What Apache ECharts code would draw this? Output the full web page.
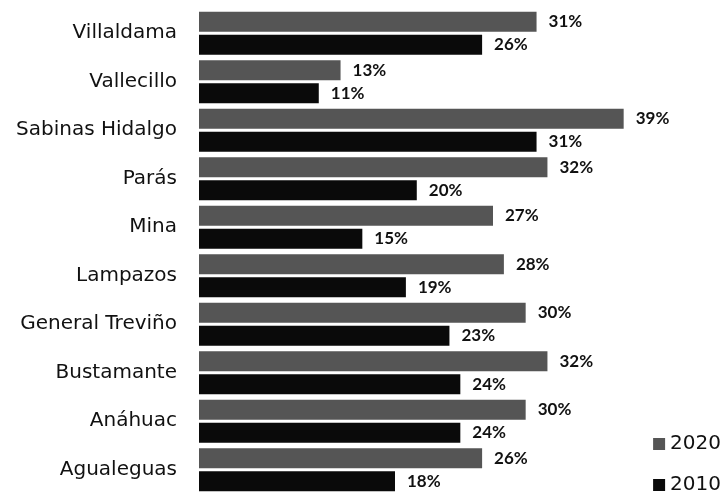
<!DOCTYPE html>
<html>
<head>
<meta charset="utf-8">
<script src="https://cdn.jsdelivr.net/npm/echarts@6/dist/echarts.min.js"></script>
<style>
  html, body { margin: 0; padding: 0; background: #fff; }
  #chart { width: 726px; height: 494px; }
</style>
</head>
<body>
<div id="chart"></div>
<script>
// municipios, de arriba hacia abajo
var municipios = ['Villaldama', 'Vallecillo', 'Sabinas Hidalgo', 'Parás', 'Mina',
    'Lampazos', 'General Treviño', 'Bustamante', 'Anáhuac', 'Agualeguas'];
var datos2020 = [31, 13, 39, 32, 27, 28, 30, 32, 30, 26];
var datos2010 = [26, 11, 31, 20, 15, 19, 23, 24, 24, 18];
var anios = ['2020', '2010'];

var myChart = echarts.init(document.getElementById('chart'));

var etiqueta = {
    show: true,
    position: 'right',
    distance: 12,
    formatter: '{c}%',
    color: '#111',
    fontSize: 17,
    fontWeight: 'bold',
    fontFamily: 'Lato'
};

var option = {
    animation: false,
    textStyle: { fontFamily: 'DejaVu Sans' },
    grid: {
        left: 199,
        right: 37,
        top: 9,
        bottom: 0
    },
    legend: {
        data: anios,
        orient: 'vertical',
        right: 0,
        bottom: -6,
        itemWidth: 12,
        itemHeight: 12,
        itemGap: 21,
        icon: 'rect',
        textStyle: { fontSize: 20, color: '#111', fontFamily: 'DejaVu Sans' }
    },
    xAxis: {
        type: 'value',
        min: 0,
        max: 45,
        show: false
    },
    yAxis: {
        type: 'category',
        inverse: true,
        data: municipios,
        axisLine: { show: false },
        axisTick: { show: false },
        axisLabel: {
            fontSize: 20,
            color: '#111',
            margin: 22,
            fontFamily: 'DejaVu Sans'
        }
    },
    series: [
        {
            name: '2020',
            type: 'bar',
            barWidth: 20,
            barGap: '15%',
            data: datos2020,
            itemStyle: { color: '#555555' },
            label: etiqueta
        },
        {
            name: '2010',
            type: 'bar',
            barWidth: 20,
            data: datos2010,
            itemStyle: { color: '#0a0a0a' },
            label: etiqueta
        }
    ]
};

myChart.setOption(option);
</script>
</body>
</html>
